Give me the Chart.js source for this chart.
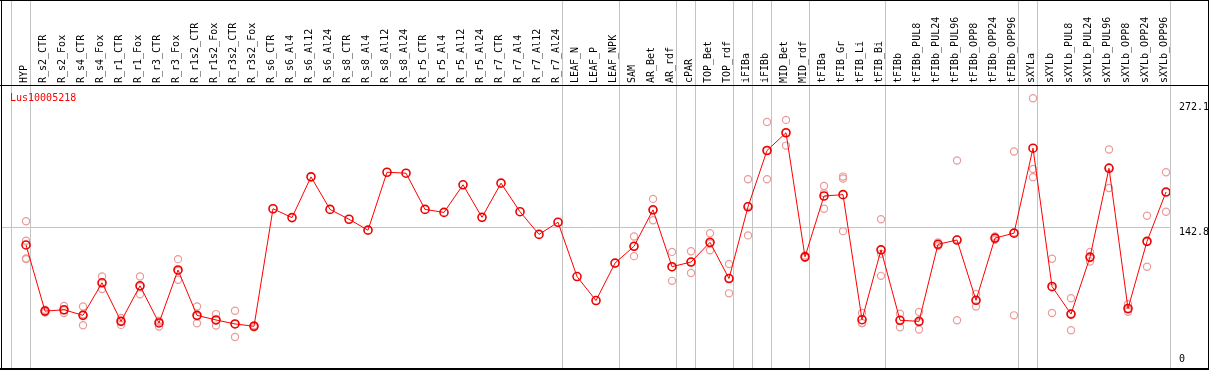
<!DOCTYPE html>
<html>
<head>
<meta charset="utf-8">
<script src="https://cdn.jsdelivr.net/npm/chart.js@4/dist/chart.umd.min.js"></script>
<style>
  html, body { margin: 0; padding: 0; background: #fff; }
  canvas { display: block; }
</style>
</head>
<body>
<canvas id="geneChart" width="1209" height="370"></canvas>
<script>
const geneName = 'Lus10005218';

const categories = [
    'HYP', 'R_s2_CTR', 'R_s2_Fox', 'R_s4_CTR', 'R_s4_Fox', 'R_r1_CTR', 'R_r1_Fox', 'R_r3_CTR', 'R_r3_Fox',
    'R_r1s2_CTR', 'R_r1s2_Fox', 'R_r3s2_CTR', 'R_r3s2_Fox', 'R_s6_CTR', 'R_s6_Al4', 'R_s6_Al12', 'R_s6_Al24',
    'R_s8_CTR', 'R_s8_Al4', 'R_s8_Al12', 'R_s8_Al24', 'R_r5_CTR', 'R_r5_Al4', 'R_r5_Al12', 'R_r5_Al24',
    'R_r7_CTR', 'R_r7_Al4', 'R_r7_Al12', 'R_r7_Al24', 'LEAF_N', 'LEAF_P', 'LEAF_NPK', 'SAM', 'AR_Bet', 'AR_rdf',
    'cPAR', 'TOP_Bet', 'TOP_rdf', 'iFIBa', 'iFIBb', 'MID_Bet', 'MID_rdf', 'tFIBa', 'tFIB_Gr', 'tFIB_Li', 'tFIB_Bi',
    'tFIBb', 'tFIBb_PUL8', 'tFIBb_PUL24', 'tFIBb_PUL96', 'tFIBb_OPP8', 'tFIBb_OPP24', 'tFIBb_OPP96',
    'sXYLa', 'sXYLb', 'sXYLb_PUL8', 'sXYLb_PUL24', 'sXYLb_PUL96', 'sXYLb_OPP8', 'sXYLb_OPP24', 'sXYLb_OPP96'
];

// mean expression per sample
const meanValues = [
    123.7, 55.2, 56.6, 50.8, 84.5, 44.6, 81.4, 42.9, 97.8,
    50.8, 46.0, 41.9, 39.5, 161.2, 152.0, 194.2, 160.5,
    150.3, 139.0, 199.0, 198.0, 160.5, 157.4, 186.0, 152.3,
    187.7, 158.1, 134.6, 147.2, 91.0, 66.1, 104.9, 122.3, 160.1, 101.2,
    106.0, 126.4, 88.9, 163.2, 221.5, 239.9, 111.4, 174.4, 175.8, 46.3, 118.6,
    45.7, 44.6, 124.4, 128.8, 66.4, 130.8, 135.9,
    223.9, 80.7, 52.1, 111.1, 203.1, 57.9, 127.4, 178.5
];

// individual replicates (empty = single sample)
const replicateValues = [
    [148.2, 128.1, 109.7, 109.0], [56.6, 53.8, 55.2], [60.6, 53.2, 56.0], [60.0, 40.5, 52.0], [91.0, 78.0, 84.5],
    [48.0, 40.9, 45.0], [91.0, 72.6, 80.6], [45.3, 39.2, 44.2], [109.0, 87.6, 96.8],
    [60.0, 42.6, 49.8], [52.1, 40.2, 45.7], [55.5, 28.3, 41.9], [40.5, 38.5, 39.5],
    [], [], [], [], [], [], [], [], [], [], [], [], [], [], [], [], [], [], [],
    [132.5, 112.1, 122.3], [171.4, 149.2, 159.7], [116.5, 86.5, 100.6],
    [117.2, 94.7, 106.1], [135.9, 118.2, 125.1], [103.9, 73.6, 89.2], [191.8, 133.6, 164.2],
    [251.1, 191.8, 221.6], [253.2, 226.6, 239.9], [112.8, 110.4, 111.0], [184.7, 161.2, 177.3],
    [194.5, 192.5, 138.0], [53.2, 42.9, 42.8], [150.3, 114.5, 91.7],
    [52.5, 38.5, 46.1], [54.2, 36.1, 43.5], [126.4, 122.6, 124.2], [211.2, 45.7, 129.5],
    [72.9, 60.0, 66.3], [132.5, 129.1, 130.8], [220.4, 50.8, 136.5],
    [275.6, 202.4, 193.9], [109.4, 53.2, 79.5], [68.5, 35.4, 52.4], [116.5, 106.6, 110.2],
    [222.5, 182.6, 204.2], [62.4, 54.5, 56.8], [154.0, 101.2, 127.0], [199.0, 158.1, 178.4]
];

const yTickValues = [0, 142.8, 272.1];
const yGridValues = [142.8];

// samples that start a new group (grey separators)
const groupStarts = ['HYP', 'R_s2_CTR', 'LEAF_N', 'SAM', 'cPAR', 'TOP_Bet', 'iFIBa', 'iFIBb',
    'MID_Bet', 'tFIBa', 'tFIBb', 'sXYLa', 'sXYLb'];

const POINT_SHIFT = 0.79;
const LABEL_SHIFT = 0.7;
const FONT = '10px "DejaVu Sans Mono", "Liberation Mono", monospace';

const meanPoints = meanValues.map((v, i) => ({ x: i + POINT_SHIFT, y: v }));
const repPoints = [];
replicateValues.forEach((reps, i) => {
    reps.forEach(v => repPoints.push({ x: i + POINT_SHIFT, y: v }));
});

const framePlugin = {
    id: 'frame',
    beforeDraw(chart) {
        const { ctx, width, height } = chart;
        ctx.save();
        ctx.fillStyle = '#fff';
        ctx.fillRect(0, 0, width, height);
        ctx.restore();
    },
    beforeDatasetsDraw(chart) {
        const { ctx, chartArea, height } = chart;
        const xs = chart.scales.x, ys = chart.scales.y;
        ctx.save();
        ctx.strokeStyle = '#c4c4c4';
        ctx.lineWidth = 1;
        const breaks = groupStarts.map(n => categories.indexOf(n)).concat([categories.length]);
        breaks.forEach(b => {
            const px = Math.round(xs.getPixelForValue(b)) + 0.5;
            ctx.beginPath();
            ctx.moveTo(px, 0);
            ctx.lineTo(px, height);
            ctx.stroke();
        });
        yGridValues.forEach(v => {
            const py = Math.round(ys.getPixelForValue(v)) + 0.5;
            ctx.beginPath();
            ctx.moveTo(1, py);
            ctx.lineTo(chartArea.right, py);
            ctx.stroke();
        });
        ctx.restore();
    },
    afterDraw(chart) {
        const { ctx, chartArea, width } = chart;
        const xs = chart.scales.x, ys = chart.scales.y;
        ctx.save();
        // borders
        ctx.fillStyle = '#000';
        ctx.fillRect(0, 0, width, 1);
        ctx.fillRect(0, 85, width, 1);
        ctx.fillRect(1, 0, 1, 370);
        ctx.fillRect(width - 1, 0, 1, 370);
        ctx.fillRect(0, 368, width, 2);

        ctx.font = FONT;
        // sample names, rotated
        ctx.fillStyle = '#000';
        ctx.textAlign = 'left';
        ctx.textBaseline = 'middle';
        categories.forEach((name, i) => {
            const px = xs.getPixelForValue(i + LABEL_SHIFT);
            ctx.save();
            ctx.translate(px, 83);
            ctx.rotate(-Math.PI / 2);
            ctx.fillText(name, 0, 0);
            ctx.restore();
        });

        // y values on the right
        ctx.textBaseline = 'top';
        yTickValues.forEach(v => {
            const py = Math.min(ys.getPixelForValue(v) + 1, chartArea.bottom - 10);
            ctx.fillText(String(v), chartArea.right + 9, py);
        });

        // gene name
        ctx.fillStyle = '#ff0000';
        ctx.textBaseline = 'alphabetic';
        ctx.fillText(geneName, 10, 101);
        ctx.restore();
    }
};

new Chart(document.getElementById('geneChart').getContext('2d'), {
    type: 'line',
    data: {
        datasets: [
            {
                label: 'mean',
                data: meanPoints,
                borderColor: '#ff0000',
                borderWidth: 1,
                pointRadius: 4,
                pointBorderWidth: 1.6,
                pointBorderColor: '#ee0000',
                pointBackgroundColor: 'rgba(0,0,0,0)',
                tension: 0
            },
            {
                type: 'scatter',
                label: 'replicates',
                data: repPoints,
                showLine: false,
                pointRadius: 3.6,
                pointBorderWidth: 1.2,
                pointBorderColor: '#eb9a9a',
                pointBackgroundColor: 'rgba(0,0,0,0)'
            }
        ]
    },
    options: {
        responsive: false,
        animation: false,
        devicePixelRatio: 1,
        layout: { padding: { left: 11, right: 39, top: 86, bottom: 2 } },
        plugins: {
            legend: { display: false },
            tooltip: { enabled: false },
            title: { display: false }
        },
        scales: {
            x: { type: 'linear', min: 0, max: categories.length, display: false },
            y: { type: 'linear', min: 0, max: 288.3, display: false }
        }
    },
    plugins: [framePlugin]
});
</script>
</body>
</html>
